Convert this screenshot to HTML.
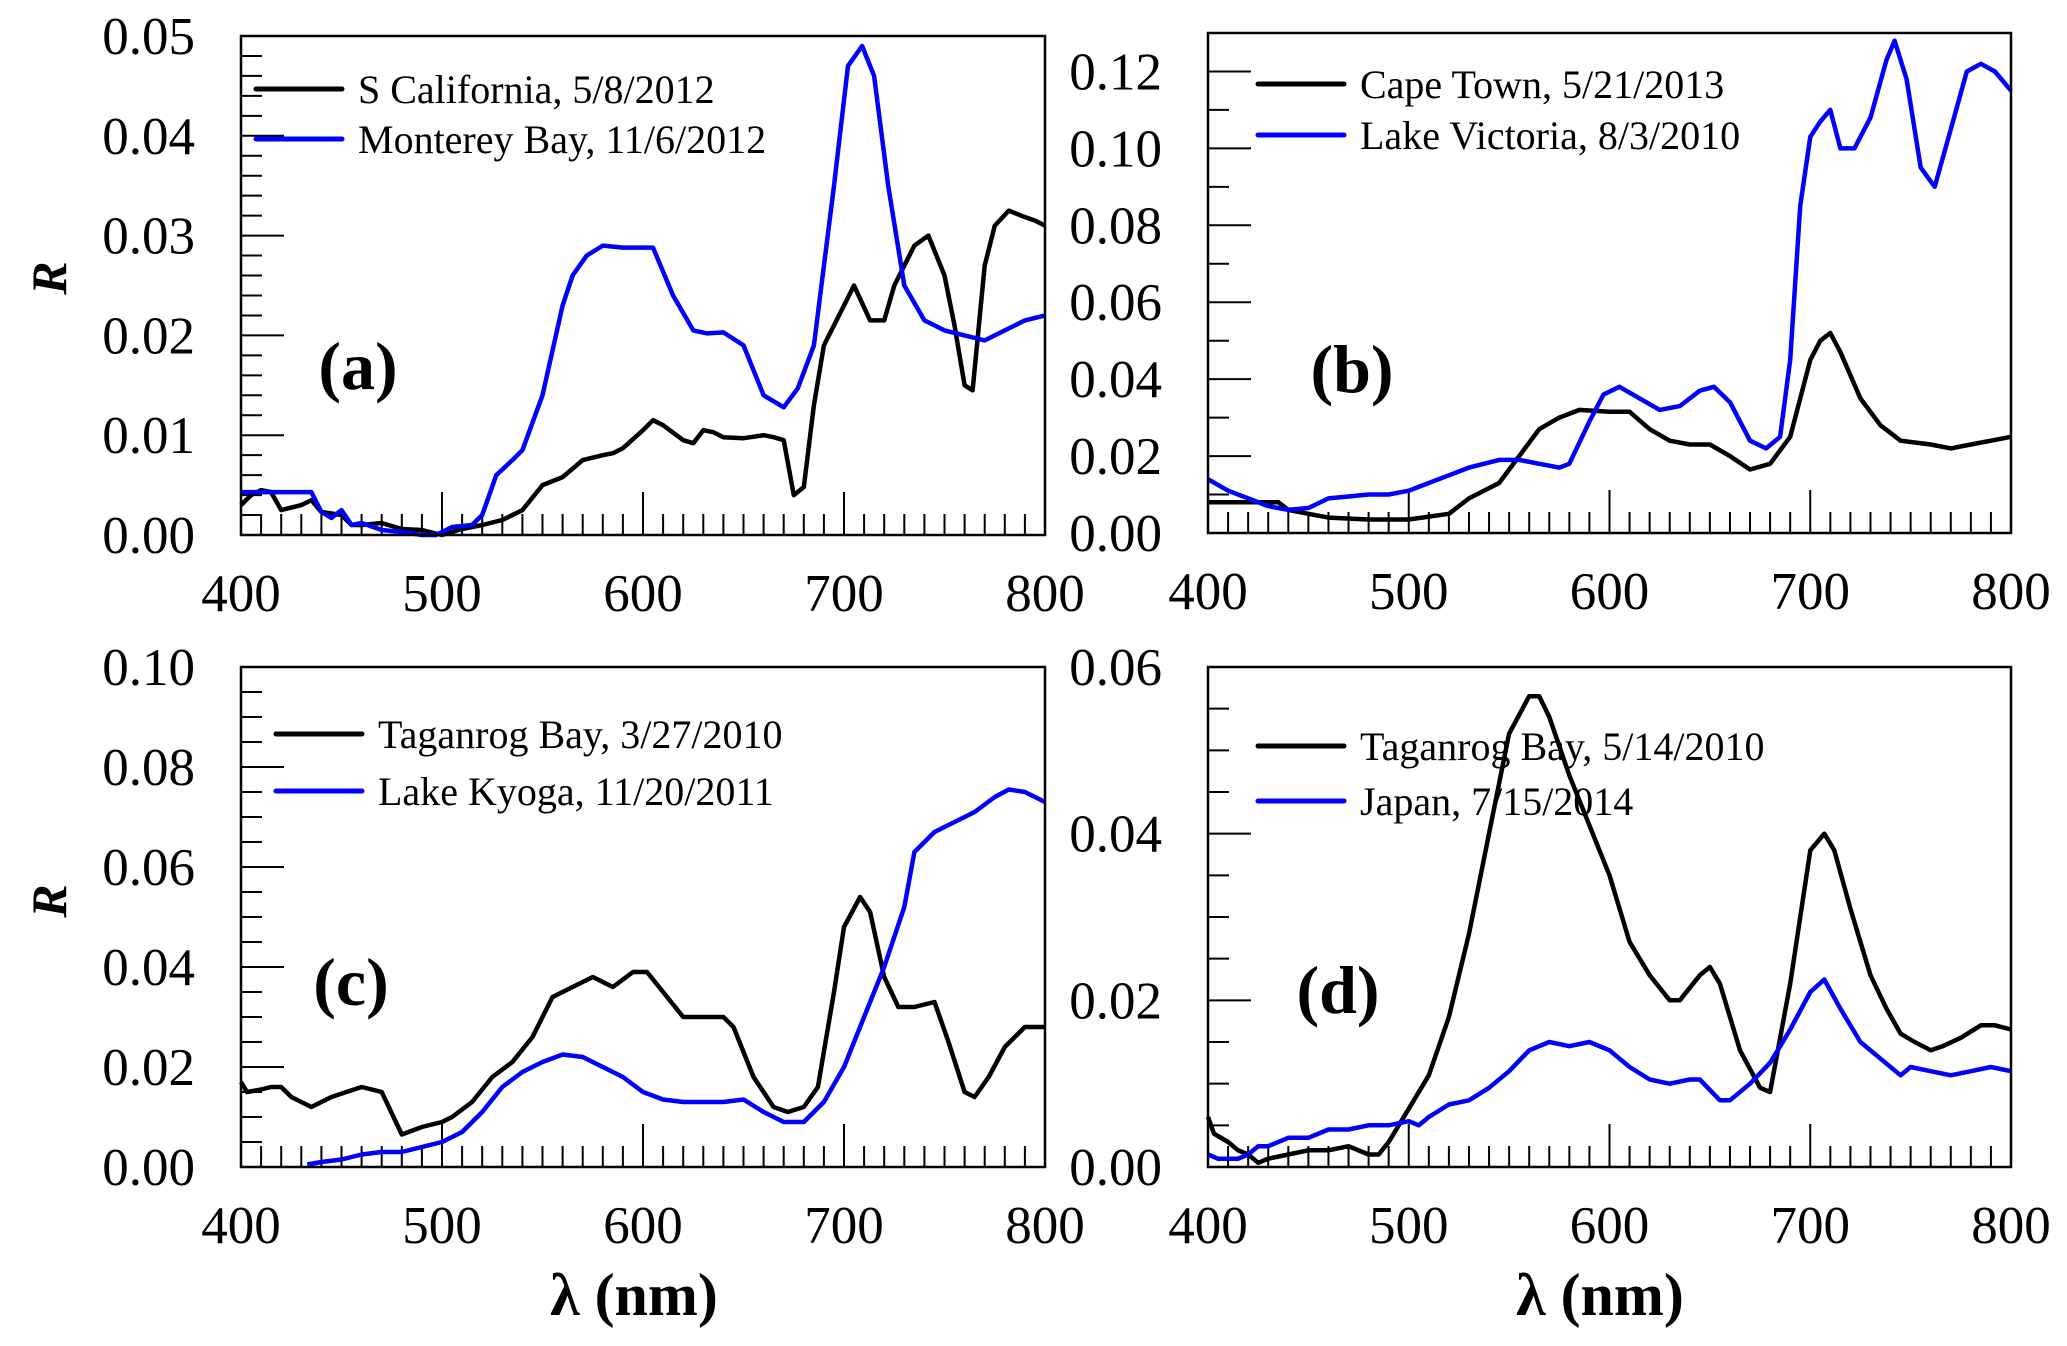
<!DOCTYPE html>
<html><head><meta charset="utf-8"><style>
html,body{margin:0;padding:0;background:#fff;}
svg{display:block;}
text{font-family:"Liberation Serif",serif;fill:#000;}
</style></head><body>
<svg id="fig" width="2067" height="1346" viewBox="0 0 2067 1346" xmlns="http://www.w3.org/2000/svg"></svg>
<script>
// ---------- data ----------
const aBlackX=[400,405,410,415,420,430,435,440,450,455,460,470,480,490,500,510,520,530,540,550,560,570,580,585,590,600,605,610,620,625,630,635,640,650,660,665,670,675,680,685,690,700,705,713,720,725,735,742,750,755,760,764,770,775,782,788,795,800];
const aBlackY=[0.003,0.004,0.0045,0.0043,0.0025,0.003,0.0035,0.0023,0.002,0.001,0.001,0.0012,0.0006,0.0005,0.0,0.0006,0.001,0.0015,0.0025,0.005,0.0058,0.0075,0.008,0.0082,0.0087,0.0105,0.0115,0.011,0.0095,0.0092,0.0105,0.0103,0.0098,0.0097,0.01,0.0098,0.0095,0.004,0.0048,0.013,0.019,0.023,0.025,0.0215,0.0215,0.025,0.029,0.030,0.026,0.021,0.015,0.0145,0.027,0.031,0.0325,0.032,0.0315,0.031];
const aBlueX=[400,435,440,445,450,455,460,470,480,490,497,505,515,520,527,535,540,550,560,565,572,580,590,605,615,625,632,640,650,660,670,677,685,695,702,709,715,722,730,740,750,770,780,790,800];
const aBlueY=[0.0043,0.0043,0.0023,0.0017,0.0025,0.001,0.0012,0.0005,0.0003,0.0,0.0,0.0008,0.001,0.002,0.006,0.0075,0.0085,0.014,0.023,0.026,0.028,0.029,0.0288,0.0288,0.024,0.0205,0.0202,0.0203,0.019,0.014,0.0128,0.0147,0.019,0.035,0.047,0.049,0.046,0.035,0.025,0.0215,0.0205,0.0195,0.0205,0.0215,0.022];

const bBlackX=[400,435,440,450,460,480,500,520,530,545,555,565,575,585,600,610,620,630,640,650,660,670,680,690,700,705,710,715,725,735,745,760,770,780,790,800];
const bBlackY=[0.008,0.008,0.006,0.005,0.004,0.0035,0.0035,0.005,0.009,0.013,0.02,0.027,0.030,0.032,0.0315,0.0315,0.027,0.024,0.023,0.023,0.02,0.0165,0.018,0.025,0.045,0.05,0.052,0.047,0.035,0.028,0.024,0.023,0.022,0.023,0.024,0.025];
const bBlueX=[400,410,420,430,440,450,460,470,480,490,500,510,520,530,545,555,565,575,580,590,597,605,615,625,635,645,652,660,670,678,685,690,695,700,705,710,715,722,730,738,742,748,755,762,770,778,785,792,800];
const bBlueY=[0.014,0.011,0.009,0.007,0.006,0.0065,0.009,0.0095,0.01,0.01,0.011,0.013,0.015,0.017,0.019,0.019,0.018,0.017,0.018,0.029,0.036,0.038,0.035,0.032,0.033,0.037,0.038,0.034,0.024,0.022,0.025,0.045,0.085,0.103,0.107,0.11,0.10,0.10,0.108,0.123,0.128,0.118,0.095,0.09,0.105,0.12,0.122,0.12,0.115];

const cBlackX=[400,403,410,415,420,425,435,445,460,470,480,490,500,505,515,525,535,545,555,565,575,585,595,602,610,620,630,640,645,655,665,672,680,687,695,700,708,713,720,727,735,745,752,760,765,772,780,790,800];
const cBlackY=[0.017,0.015,0.0155,0.016,0.016,0.014,0.012,0.014,0.016,0.015,0.0065,0.008,0.009,0.01,0.013,0.018,0.021,0.026,0.034,0.036,0.038,0.036,0.039,0.039,0.035,0.03,0.03,0.03,0.028,0.018,0.012,0.011,0.012,0.016,0.035,0.048,0.054,0.051,0.038,0.032,0.032,0.033,0.025,0.015,0.014,0.018,0.024,0.028,0.028];
const cBlueX=[433,440,450,460,470,480,490,500,510,520,530,540,550,560,570,580,590,600,610,620,640,650,660,670,680,690,700,710,720,730,735,745,750,760,765,775,782,790,800];
const cBlueY=[0.0005,0.001,0.0015,0.0025,0.003,0.003,0.004,0.005,0.007,0.011,0.016,0.019,0.021,0.0225,0.022,0.02,0.018,0.015,0.0135,0.013,0.013,0.0135,0.011,0.009,0.009,0.013,0.02,0.03,0.04,0.052,0.063,0.067,0.068,0.07,0.071,0.074,0.0755,0.075,0.073];

const dBlackX=[400,403,410,415,420,425,430,440,450,460,470,480,485,490,500,510,520,530,540,550,560,565,570,580,590,600,610,620,630,635,645,650,655,665,675,680,690,700,707,712,720,730,738,745,752,760,766,775,785,792,800];
const dBlackY=[0.006,0.004,0.003,0.002,0.0015,0.0005,0.001,0.0015,0.002,0.002,0.0025,0.0015,0.0015,0.003,0.007,0.011,0.018,0.028,0.040,0.052,0.0565,0.0565,0.054,0.047,0.041,0.035,0.027,0.023,0.020,0.020,0.023,0.024,0.022,0.014,0.0095,0.009,0.022,0.038,0.040,0.038,0.031,0.023,0.019,0.016,0.015,0.014,0.0145,0.0155,0.017,0.017,0.0165];
const dBlueX=[400,405,415,420,425,430,440,450,460,470,480,490,500,505,510,520,530,540,550,560,570,580,590,600,610,620,630,640,645,655,660,670,680,690,700,707,715,725,735,745,750,760,770,780,790,800];
const dBlueY=[0.0015,0.001,0.001,0.0015,0.0025,0.0025,0.0035,0.0035,0.0045,0.0045,0.005,0.005,0.0055,0.005,0.006,0.0075,0.008,0.0095,0.0115,0.014,0.015,0.0145,0.015,0.014,0.012,0.0105,0.01,0.0105,0.0105,0.008,0.008,0.01,0.0125,0.0165,0.021,0.0225,0.019,0.015,0.013,0.011,0.012,0.0115,0.011,0.0115,0.012,0.0115];

const xTicks=[400,500,600,700,800];
const aYTicks=["0.00","0.01","0.02","0.03","0.04","0.05"];
const bYTicks=["0.00","0.02","0.04","0.06","0.08","0.10","0.12"];
const cYTicks=["0.00","0.02","0.04","0.06","0.08","0.10"];
const dYTicks=["0.00","0.02","0.04","0.06"];
const aLegend=["S California, 5/8/2012","Monterey Bay, 11/6/2012"];
const bLegend=["Cape Town, 5/21/2013","Lake Victoria, 8/3/2010"];
const cLegend=["Taganrog Bay, 3/27/2010","Lake Kyoga, 11/20/2011"];
const dLegend=["Taganrog Bay, 5/14/2010","Japan, 7/15/2014"];

// ---------- drawing ----------
const NS="http://www.w3.org/2000/svg";
const svg=document.getElementById('fig');
function mk(tag,attrs,parent){const e=document.createElementNS(NS,tag);for(const k in attrs)e.setAttribute(k,attrs[k]);(parent||svg).appendChild(e);return e;}

function panel(id,L,R,T,B,ymax,yTicks,minorStep,series,legend,leg,label,labPos){
  const g=mk('g',{});
  
  
  const xs=v=>L+(v-400)/400*(R-L);
  const ys=v=>B-v/ymax*(B-T);
  for(let v=410;v<800;v+=10){
    const major=(v%100===0);
    const t=mk('line',{x1:xs(v),x2:xs(v),y1:B,y2:B-(major?43:21),stroke:'#000','stroke-width':2},g);
    
    
  }
  const majorStep=parseFloat(yTicks[1]);
  const n=Math.round(ymax/minorStep);
  for(let i=1;i<n;i++){
    const v=i*minorStep;
    const major=Math.abs(v/majorStep-Math.round(v/majorStep))<1e-6;
    const t=mk('line',{x1:L,x2:L+(major?43:21),y1:ys(v),y2:ys(v),stroke:'#000','stroke-width':2},g);
    
    
  }
  series.forEach((s,si)=>{
    const d=s.x.map((x,i)=>(i?'L':'M')+xs(x).toFixed(1)+' '+ys(s.y[i]).toFixed(1)).join(' ');
    const p=mk('path',{d:d,fill:'none',stroke:s.c,'stroke-width':4.5,'stroke-linejoin':'round'},g);
    
    
  });
  const f=mk('rect',{x:L,y:T,width:R-L,height:B-T,fill:'none',stroke:'#000','stroke-width':2.5},g);
  
  
  xTicks.forEach(v=>{
    const t=mk('text',{x:xs(v),y:B+76,'text-anchor':'middle','font-size':53},g);
    t.textContent=v;
    
    
  });
  yTicks.forEach(s=>{
    const t=mk('text',{x:L-46,y:ys(parseFloat(s))+18,'text-anchor':'end','font-size':53},g);
    t.textContent=s;
    
    
  });
  legend.forEach((s,i)=>{
    const ly=leg.y+i*leg.dy;
    const l=mk('line',{x1:leg.x,x2:leg.x+86,y1:ly,y2:ly,stroke:i?'#0000ff':'#000','stroke-width':5,'stroke-linecap':'round'},g);
    
    
    const t=mk('text',{x:leg.x+102,y:ly+14,'font-size':40},g);
    t.textContent=s;
    
    
  });
  const lb=mk('text',{x:labPos[0],y:labPos[1],'text-anchor':'middle','font-size':68,'font-weight':'bold'},g);
  lb.textContent=label;
  
  
}

panel('a',241,1045,36,535,0.05,aYTicks,0.002,
  [{x:aBlackX,y:aBlackY,c:'#000'},{x:aBlueX,y:aBlueY,c:'#0000ff'}],
  aLegend,{x:256,y:89,dy:50},'(a)',[358,389]);
panel('b',1208,2011,33,533,0.13,bYTicks,0.01,
  [{x:bBlackX,y:bBlackY,c:'#000'},{x:bBlueX,y:bBlueY,c:'#0000ff'}],
  bLegend,{x:1258,y:84,dy:51},'(b)',[1352,392]);
panel('c',241,1045,667,1167,0.10,cYTicks,0.005,
  [{x:cBlackX,y:cBlackY,c:'#000'},{x:cBlueX,y:cBlueY,c:'#0000ff'}],
  cLegend,{x:276,y:734,dy:57},'(c)',[351,1005]);
panel('d',1208,2011,667,1167,0.06,dYTicks,0.005,
  [{x:dBlackX,y:dBlackY,c:'#000'},{x:dBlueX,y:dBlueY,c:'#0000ff'}],
  dLegend,{x:1258,y:746,dy:55},'(d)',[1338,1013]);

[[49,278],[49,901]].forEach(p=>{
  const t=mk('text',{x:p[0],y:p[1],'text-anchor':'middle','font-size':50,'font-weight':'bold','font-style':'italic',transform:'rotate(-90 '+p[0]+' '+p[1]+')',dy:17});
  t.textContent='R';
  
  
});
[[634,1315],[1600,1315]].forEach(p=>{
  const t=mk('text',{x:p[0],y:p[1],'text-anchor':'middle','font-size':60,'font-weight':'bold'});
  t.textContent='λ (nm)';
  
  
});
</script>
</body></html>
